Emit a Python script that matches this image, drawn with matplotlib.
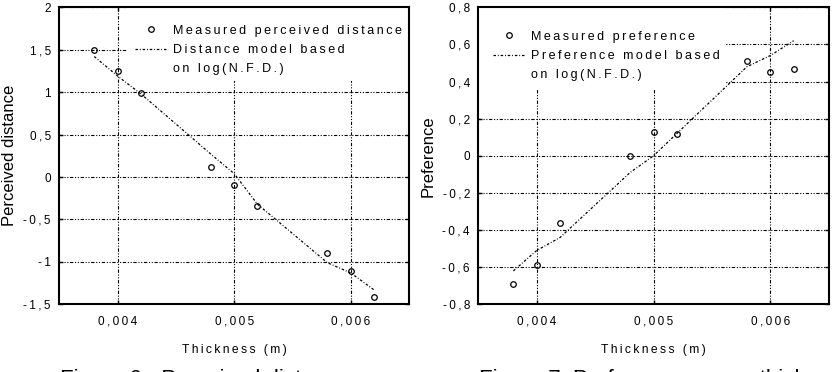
import matplotlib
matplotlib.use("Agg")
import matplotlib.pyplot as plt
from matplotlib.lines import Line2D
from matplotlib.ticker import FuncFormatter, MultipleLocator

plt.rcParams['font.family'] = ['Liberation Sans', 'DejaVu Sans']

thickness = [0.0038, 0.0040, 0.0042, 0.0048, 0.0050, 0.0052, 0.0058, 0.0060, 0.0062]
dist_measured = [1.50, 1.25, 0.99, 0.12, -0.09, -0.34, -0.90, -1.11, -1.41]
dist_model = [1.42, 1.19, 0.98, 0.27, 0.04, -0.32, -1.01, -1.13, -1.33]
pref_measured = [-0.69, -0.59, -0.36, 0.00, 0.13, 0.12, 0.51, 0.45, 0.47]
pref_model = [-0.62, -0.51, -0.44, -0.09, 0.00, 0.12, 0.48, 0.54, 0.62]

GAP = '\u2009'


def sp(s):
    return GAP.join(s)


def num(v, pos=None):
    s = '%g' % round(v, 6)
    return sp(s.replace('.', ','))


def setup(ax, ylo, yhi, ystep, ylabel):
    ax.set_xlim(0.0035, 0.0065)
    ax.set_ylim(ylo, yhi)
    ax.xaxis.set_major_locator(MultipleLocator(0.001))
    ax.yaxis.set_major_locator(MultipleLocator(ystep))
    ax.xaxis.set_major_formatter(FuncFormatter(num))
    ax.yaxis.set_major_formatter(FuncFormatter(num))
    ax.tick_params(direction='in', length=3, width=1, top=True, right=True,
                   labelsize=8.5, colors='black')
    ax.tick_params(axis='x', pad=8)
    ax.tick_params(axis='y', pad=6)
    ax.set_axisbelow(True)
    ax.grid(True, color='black', lw=0.8, linestyle=(0, (3, 1.5, 1, 1.5, 1, 1.5)))
    for s in ax.spines.values():
        s.set_linewidth(1.5)
    ax.set_xlabel(sp('Thickness (m)'), fontsize=8.7, labelpad=12)
    ax.set_ylabel(ylabel, fontsize=12, labelpad=5)


mstyle = dict(linestyle='none', marker='o', ms=4, mfc='none', mec='black', mew=0.9, zorder=3)
lstyle = dict(color='black', lw=0.9, linestyle=(0, (2, 1.5, 0.7, 1.5)), zorder=2)


def legend(ax, labels, anchor, box):
    ax.add_patch(plt.Rectangle((box[0], box[1]), box[2] - box[0], box[3] - box[1],
                               transform=ax.transAxes, facecolor='white',
                               edgecolor='none', zorder=1))
    handles = [Line2D([], [], **mstyle), Line2D([], [], **lstyle),
               Line2D([], [], linestyle='none')]
    leg = ax.legend(handles, [sp(t) for t in labels], loc='upper left',
                    bbox_to_anchor=anchor, frameon=False, fontsize=9,
                    handlelength=2.6, handletextpad=0.45, labelspacing=0.58,
                    borderpad=0, borderaxespad=0)
    return leg


fig = plt.figure(figsize=(8.36, 3.72), dpi=100)
ax1 = fig.add_axes([59.3 / 836, 1 - 304.3 / 372, 349.7 / 836, 297 / 372])
ax2 = fig.add_axes([478.3 / 836, 1 - 304.3 / 372, 350.4 / 836, 297 / 372])

ax1.plot(thickness, dist_measured, **mstyle)
ax1.plot(thickness, dist_model, **lstyle)
setup(ax1, -1.5, 2, 0.5, 'Perceived distance')
legend(ax1, ['Measured perceived distance', 'Distance model based', 'on log(N.F.D.)'],
       (0.2165, 0.941), (0.194, 0.752, 1.0, 1.0))

ax2.plot(thickness, pref_measured, **mstyle)
ax2.plot(thickness, pref_model, **lstyle)
setup(ax2, -0.8, 0.8, 0.2, 'Preference')
legend(ax2, ['Measured preference', 'Preference model based', 'on log(N.F.D.)'],
       (0.041, 0.921), (0.0, 0.725, 0.704, 1.0))

fig.text(60 / 836, 0.008, 'Figure 6 - Perceived distance', fontsize=16, va='top', ha='left')
fig.text(479 / 836, 0.008, 'Figure 7: Preference versus thickness', fontsize=16, va='top', ha='left')

fig.savefig('out.png', dpi=100)
